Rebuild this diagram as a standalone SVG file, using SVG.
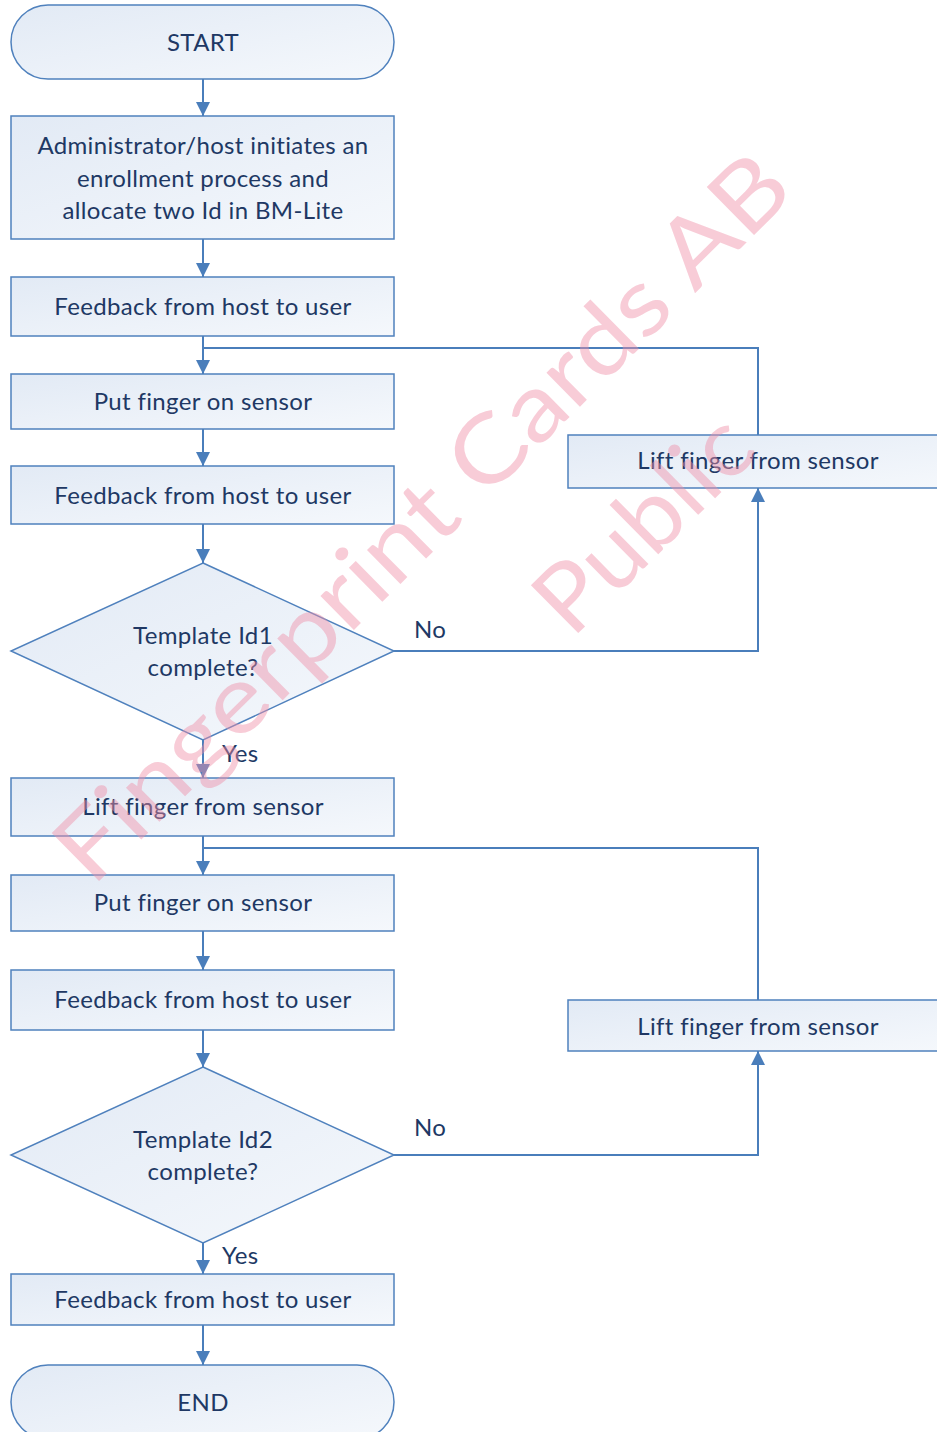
<svg xmlns="http://www.w3.org/2000/svg" width="937" height="1432" viewBox="0 0 937 1432">
<defs>
<linearGradient id="g" x1="0" y1="0" x2="1" y2="1">
<stop offset="0" stop-color="#e2eaf5"/>
<stop offset="1" stop-color="#f5f8fc"/>
</linearGradient>
<marker id="ah" viewBox="0 0 10 10" refX="10" refY="5" markerWidth="7" markerHeight="7" markerUnits="strokeWidth" orient="auto">
<path d="M0,0 L10,5 L0,10 z" fill="#4a7ebb"/>
</marker>
<style>
.n{fill:url(#g);stroke:#4f81bd;stroke-width:1.5}
.t{font-family:Lato,"Open Sans","Noto Sans",sans-serif;font-size:24px;letter-spacing:0.35px;fill:#203864;text-anchor:middle}
.l{font-family:Lato,"Open Sans","Noto Sans",sans-serif;font-size:24px;letter-spacing:0.35px;fill:#203864}
.c{fill:none;stroke:#4a7ebb;stroke-width:2}
.w{font-family:Lato,"Open Sans","Noto Sans",sans-serif;font-size:94px;fill:#f08fa8;opacity:0.45}
</style>
</defs>
<rect width="937" height="1432" fill="#ffffff"/>
<g id="connectors">
<line class="c" x1="203" y1="79" x2="203" y2="116" marker-end="url(#ah)"/>
<line class="c" x1="203" y1="239" x2="203" y2="277" marker-end="url(#ah)"/>
<line class="c" x1="203" y1="336" x2="203" y2="374" marker-end="url(#ah)"/>
<polyline class="c" points="758,435 758,348 203,348"/>
<line class="c" x1="203" y1="429" x2="203" y2="466" marker-end="url(#ah)"/>
<line class="c" x1="203" y1="524" x2="203" y2="563" marker-end="url(#ah)"/>
<polyline class="c" points="394,651 758,651 758,488" marker-end="url(#ah)"/>
<line class="c" x1="203" y1="740" x2="203" y2="778" marker-end="url(#ah)"/>
<line class="c" x1="203" y1="836" x2="203" y2="875" marker-end="url(#ah)"/>
<polyline class="c" points="758,1000 758,848 203,848"/>
<line class="c" x1="203" y1="931" x2="203" y2="970" marker-end="url(#ah)"/>
<line class="c" x1="203" y1="1030" x2="203" y2="1067" marker-end="url(#ah)"/>
<polyline class="c" points="394,1155 758,1155 758,1051" marker-end="url(#ah)"/>
<line class="c" x1="203" y1="1243" x2="203" y2="1274" marker-end="url(#ah)"/>
<line class="c" x1="203" y1="1325" x2="203" y2="1365" marker-end="url(#ah)"/>
<text class="l" x="414" y="638">No</text>
<text class="l" x="222" y="762">Yes</text>
<text class="l" x="414" y="1136">No</text>
<text class="l" x="222" y="1264">Yes</text>
</g>
<g id="start"><rect class="n" x="11" y="5" width="383" height="74" rx="37"/><text class="t" x="203" y="51">START</text></g>
<g id="init"><rect class="n" x="11" y="116" width="383" height="123"/>
<text class="t" x="203" y="154">Administrator/host initiates an</text>
<text class="t" x="203" y="187">enrollment process and</text>
<text class="t" x="203" y="219">allocate two Id in BM-Lite</text></g>
<g id="feedback1"><rect class="n" x="11" y="277" width="383" height="59"/><text class="t" x="203" y="315">Feedback from host to user</text></g>
<g id="put1"><rect class="n" x="11" y="374" width="383" height="55"/><text class="t" x="203" y="410">Put finger on sensor</text></g>
<g id="feedback2"><rect class="n" x="11" y="466" width="383" height="58"/><text class="t" x="203" y="504">Feedback from host to user</text></g>
<g id="decision1"><polygon class="n" points="203,563 394,651 203,740 11,651"/>
<text class="t" x="203" y="644">Template Id1</text><text class="t" x="203" y="676">complete?</text></g>
<g id="liftloop1"><rect class="n" x="568" y="435" width="380" height="53"/><text class="t" x="758" y="469">Lift finger from sensor</text></g>
<g id="lift1"><rect class="n" x="11" y="778" width="383" height="58"/><text class="t" x="203" y="815">Lift finger from sensor</text></g>
<g id="put2"><rect class="n" x="11" y="875" width="383" height="56"/><text class="t" x="203" y="911">Put finger on sensor</text></g>
<g id="feedback3"><rect class="n" x="11" y="970" width="383" height="60"/><text class="t" x="203" y="1008">Feedback from host to user</text></g>
<g id="liftloop2"><rect class="n" x="568" y="1000" width="380" height="51"/><text class="t" x="758" y="1035">Lift finger from sensor</text></g>
<g id="decision2"><polygon class="n" points="203,1067 394,1155 203,1243 11,1155"/>
<text class="t" x="203" y="1148">Template Id2</text><text class="t" x="203" y="1180">complete?</text></g>
<g id="feedback4"><rect class="n" x="11" y="1274" width="383" height="51"/><text class="t" x="203" y="1308">Feedback from host to user</text></g>
<g id="end"><rect class="n" x="11" y="1365" width="383" height="74" rx="37"/><text class="t" x="203" y="1411">END</text></g>
<g id="watermark" transform="translate(92,888) rotate(-44.6)">
<text class="w" x="0" y="0" textLength="990" lengthAdjust="spacingAndGlyphs">Fingerprint Cards AB</text>
<text class="w" x="516" y="160" textLength="265" lengthAdjust="spacingAndGlyphs">Public</text>
</g>
</svg>
